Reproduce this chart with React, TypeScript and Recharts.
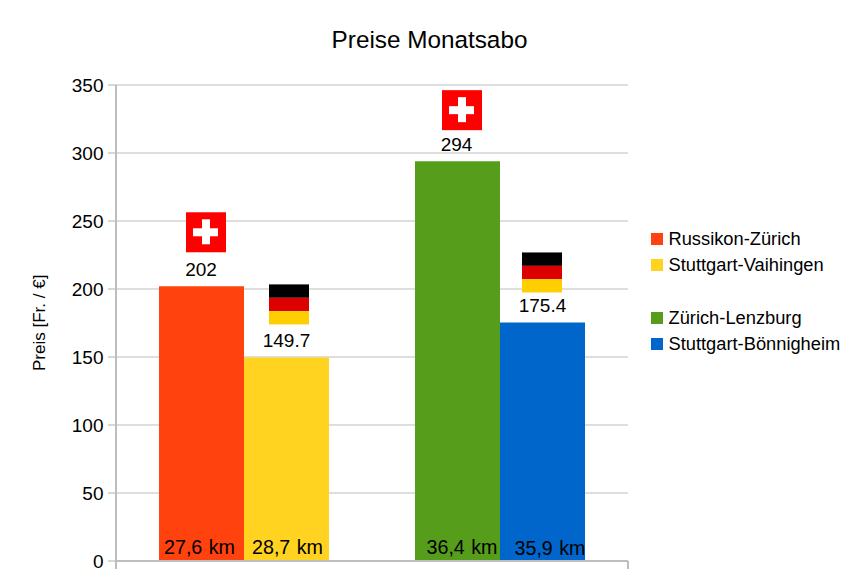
import { BarChart, Bar, XAxis, YAxis, CartesianGrid, Cell, LabelList } from 'recharts';

const GROUPS = ['Gruppe 1', 'Gruppe 2'];
const FIRST_PRICES = [202, 294];
const SECOND_PRICES = [149.7, 175.4];
const FIRST_KM = ['27,6 km', '36,4 km'];
const SECOND_KM = ['28,7 km', '35,9 km'];
const FIRST_COLORS = ['#ff420e', '#579d1c'];
const SECOND_COLORS = ['#ffd320', '#0066cc'];
const Y_TICKS = [0, 50, 100, 150, 200, 250, 300, 350];
const LEGEND_NAMES = [['Russikon-Zürich', 'Stuttgart-Vaihingen'], ['Zürich-Lenzburg', 'Stuttgart-Bönnigheim']];

const FONT = '"Liberation Sans", Arial, sans-serif';
const GRID = '#bdbdbd';

const chartData = GROUPS.map((name, i) => ({
  name,
  first: FIRST_PRICES[i],
  second: SECOND_PRICES[i],
  firstKm: FIRST_KM[i],
  secondKm: SECOND_KM[i],
}));

function SwissFlag({ x, y }: { x: number; y: number }) {
  return (
    <g>
      <rect x={x} y={y} width={40} height={40} fill="#ff0000" />
      <rect x={x + 7} y={y + 16} width={25} height={8} fill="#ffffff" />
      <rect x={x + 16} y={y + 7} width={8} height={25} fill="#ffffff" />
    </g>
  );
}

function GermanFlag({ x, y }: { x: number; y: number }) {
  return (
    <g>
      <rect x={x} y={y} width={40} height={13.4} fill="#000000" />
      <rect x={x} y={y + 13.4} width={40} height={13.3} fill="#dd0000" />
      <rect x={x} y={y + 26.7} width={40} height={13.3} fill="#ffce00" />
    </g>
  );
}

// price label with its flag on top, both placed from the bar's own geometry
function priceLabel(Flag: typeof SwissFlag, flagDx: number[], flagDy: number[], textDx: number[]) {
  return (props: any) => {
    const { x, y, width, value, index } = props;
    const cx = x + width / 2;
    return (
      <g>
        <Flag x={cx - 20 + flagDx[index]} y={y - flagDy[index]} />
        <text x={cx + textDx[index]} y={y - 10} textAnchor="middle" fontSize={19} fontFamily={FONT} fill="#000000">
          {value}
        </text>
      </g>
    );
  };
}

function kmLabel(textDx: number[], textDy: number[]) {
  return (props: any) => {
    const { x, y, width, height, value, index } = props;
    return (
      <text
        x={x + width / 2 + textDx[index]}
        y={y + height - 7 + textDy[index]}
        textAnchor="middle"
        fontSize={19.7}
        fontFamily={FONT}
        fill="#000000"
        style={{ wordSpacing: 1 }}
      >
        {value}
      </text>
    );
  };
}

// ticks sit on the outer band edges only, none between the two groups
function BandTick(props: any) {
  const { x, y, index } = props;
  const half = 128;
  const edge = index === 0 ? x - half : x + half;
  return <line x1={edge} x2={edge} y1={y - 8} y2={y} stroke={GRID} strokeWidth={2} />;
}

export default function App() {
  return (
    <div style={{ position: 'absolute', left: 0, top: 0, width: 859, height: 582, background: '#fff', fontFamily: FONT }}>
      <div style={{ position: 'absolute', left: 0, width: 859, top: 25, textAlign: 'center', fontSize: 24.3, lineHeight: '30px', color: '#000' }}>
        Preise Monatsabo
      </div>
      <BarChart
        width={859}
        height={582}
        data={chartData}
        barGap={0}
        barCategoryGap={43}
        margin={{ top: 85, right: 231, bottom: 0, left: 56 }}
      >
        <CartesianGrid vertical={false} stroke={GRID} strokeWidth={1.2} />
        <XAxis dataKey="name" height={21} axisLine={{ stroke: GRID, strokeWidth: 2 }} tickLine={false} tick={<BandTick />} />
        <YAxis
          domain={[0, 350]}
          ticks={Y_TICKS}
          width={60}
          interval={0}
          axisLine={{ stroke: GRID, strokeWidth: 2 }}
          tickLine={{ stroke: GRID, strokeWidth: 1.2 }}
          tickSize={8}
          tickMargin={4.5}
          tick={{ fontSize: 19, fontFamily: FONT, fill: '#000000' }}
          label={{
            value: 'Preis [Fr. / €]',
            angle: -90,
            position: 'insideLeft',
            dx: -22,
            dy: 48,
            fontSize: 17,
            fontFamily: FONT,
            fill: '#000000',
          }}
        />
        <Bar dataKey="first" isAnimationActive={false}>
          {FIRST_COLORS.map((c) => (
            <Cell key={c} fill={c} />
          ))}
          <LabelList dataKey="first" content={priceLabel(SwissFlag, [4.5, 4.5], [74, 71], [-0.5, -1])} />
          <LabelList dataKey="firstKm" content={kmLabel([-2, 4.5], [0, 0])} />
        </Bar>
        <Bar dataKey="second" isAnimationActive={false}>
          {SECOND_COLORS.map((c) => (
            <Cell key={c} fill={c} />
          ))}
          <LabelList dataKey="second" content={priceLabel(GermanFlag, [2.5, -0.5], [73, 70], [0, 0])} />
          <LabelList dataKey="secondKm" content={kmLabel([1, 7.5], [0, 1])} />
        </Bar>
      </BarChart>
      <div style={{ position: 'absolute', left: 651, top: 226 }}>
        {LEGEND_NAMES.map((pair, g) => (
          <div key={g} style={{ marginBottom: g === 0 ? 27 : 0 }}>
            {pair.map((name, i) => (
              <div key={name} style={{ display: 'flex', alignItems: 'center', height: 26, fontSize: 18.3, color: '#000' }}>
                <span
                  style={{
                    width: 12,
                    height: 12,
                    marginRight: 5.5,
                    background: (i === 0 ? FIRST_COLORS : SECOND_COLORS)[g],
                  }}
                />
                {name}
              </div>
            ))}
          </div>
        ))}
      </div>
    </div>
  );
}
